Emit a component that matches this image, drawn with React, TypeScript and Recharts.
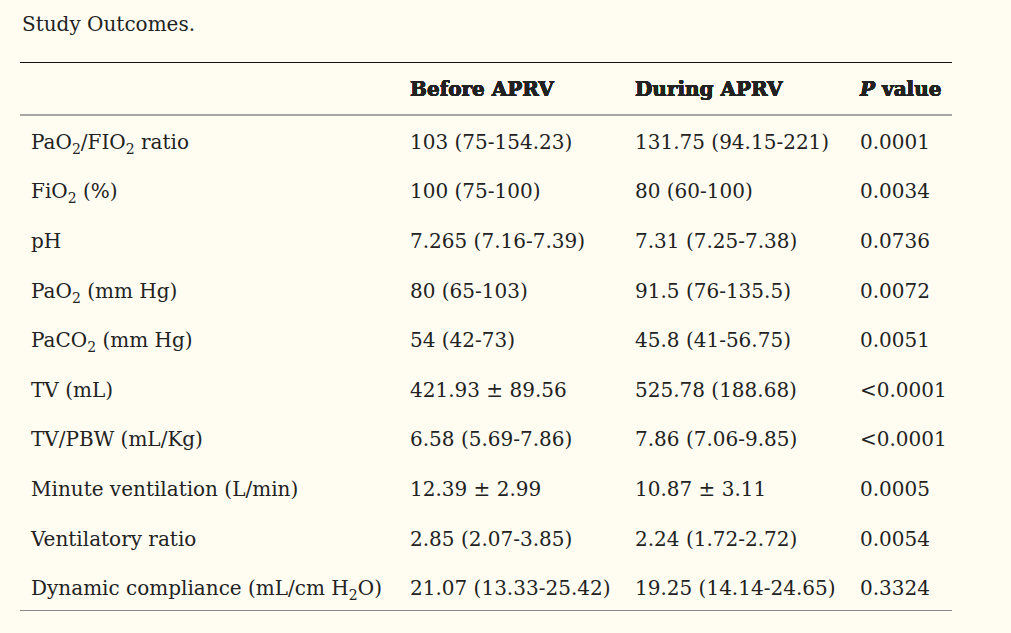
import { ScatterChart, Scatter, XAxis, YAxis } from 'recharts';

// Table content
const TITLE = 'Study Outcomes.';
const COLUMNS = ['Before APRV', 'During APRV', 'P value'];
// "_2" marks a subscript digit
const ROW_LABELS = [
  'PaO_2/FIO_2 ratio',
  'FiO_2 (%)',
  'pH',
  'PaO_2 (mm Hg)',
  'PaCO_2 (mm Hg)',
  'TV (mL)',
  'TV/PBW (mL/Kg)',
  'Minute ventilation (L/min)',
  'Ventilatory ratio',
  'Dynamic compliance (mL/cm H_2O)',
];
const BEFORE = [
  '103 (75-154.23)',
  '100 (75-100)',
  '7.265 (7.16-7.39)',
  '80 (65-103)',
  '54 (42-73)',
  '421.93 ± 89.56',
  '6.58 (5.69-7.86)',
  '12.39 ± 2.99',
  '2.85 (2.07-3.85)',
  '21.07 (13.33-25.42)',
];
const DURING = [
  '131.75 (94.15-221)',
  '80 (60-100)',
  '7.31 (7.25-7.38)',
  '91.5 (76-135.5)',
  '45.8 (41-56.75)',
  '525.78 (188.68)',
  '7.86 (7.06-9.85)',
  '10.87 ± 3.11',
  '2.24 (1.72-2.72)',
  '19.25 (14.14-24.65)',
];
const P_VALUES = [
  '0.0001',
  '0.0034',
  '0.0736',
  '0.0072',
  '0.0051',
  '<0.0001',
  '<0.0001',
  '0.0005',
  '0.0054',
  '0.3324',
];

const FONT = '"DejaVu Serif", serif';
const INK = '#222';
const BG = '#fffdf2';

const series = [BEFORE, DURING, P_VALUES].map((values, i) => ({
  column: COLUMNS[i],
  data: ROW_LABELS.map((label, r) => ({ column: COLUMNS[i], label, text: values[r] })),
}));

function RichText({ x, y, text, ...rest }: any) {
  const parts = String(text).split(/_(\d)/);
  return (
    <text x={x} y={y} fontFamily={FONT} fontSize={20} fill={INK} {...rest}>
      {parts.map((p, i) =>
        i % 2 === 1 ? (
          <tspan key={i} dy={5} fontSize={14}>
            {p}
          </tspan>
        ) : (
          <tspan key={i} dy={i > 0 ? -5 : 0}>
            {p}
          </tspan>
        )
      )}
    </text>
  );
}

function RowLabelTick(props: any) {
  const { y, payload } = props;
  return <RichText x={31} y={y + 9} text={payload.value} />;
}

function HeaderTick(props: any) {
  const { x, payload } = props;
  if (payload.value === 'P value') {
    return (
      <text x={x} y={96} fontFamily={FONT} fontSize={20} fontWeight="bold" fill={INK}>
        <tspan fontStyle="italic">P</tspan>
        <tspan> value</tspan>
      </text>
    );
  }
  return (
    <text x={x} y={96} fontFamily={FONT} fontSize={20} fontWeight="bold" fill={INK}>
      {payload.value}
    </text>
  );
}

function CellText(props: any) {
  const { cx, cy, payload } = props;
  return (
    <text x={cx} y={cy + 9} fontFamily={FONT} fontSize={20} fill={INK}>
      {payload.text}
    </text>
  );
}

export default function App() {
  return (
    <div style={{ position: 'fixed', inset: 0, background: BG }}>
      <div
        style={{
          position: 'absolute',
          left: 22,
          top: 11,
          fontFamily: FONT,
          fontSize: 20,
          lineHeight: '26px',
          color: INK,
        }}
      >
        {TITLE}
      </div>
      <div style={{ position: 'absolute', left: 20, top: 62, width: 932, borderTop: '1.5px solid #111' }} />
      <div style={{ position: 'absolute', left: 20, top: 610, width: 932, borderTop: '1.5px solid #8a8a8a' }} />
      <div style={{ position: 'absolute', left: 0, top: 0 }}>
        <ScatterChart width={1011} height={633} margin={{ top: 63, right: 59, bottom: 22, left: 10 }}>
          <XAxis
            dataKey="column"
            type="category"
            orientation="top"
            scale="point"
            allowDuplicatedCategory={false}
            padding={{ left: 390, right: 92 }}
            height={52}
            interval={0}
            tickLine={false}
            tickSize={0}
            axisLine={{ stroke: '#8a8a8a', strokeWidth: 1.5 }}
            tick={<HeaderTick />}
          />
          <YAxis
            dataKey="label"
            type="category"
            allowDuplicatedCategory={false}
            width={10}
            interval={0}
            reversed
            tickLine={false}
            axisLine={false}
            tick={<RowLabelTick />}
          />
          {series.map((s) => (
            <Scatter
              key={s.column}
              name={s.column}
              data={s.data}
              isAnimationActive={false}
              shape={<CellText />}
            />
          ))}
        </ScatterChart>
      </div>
    </div>
  );
}
